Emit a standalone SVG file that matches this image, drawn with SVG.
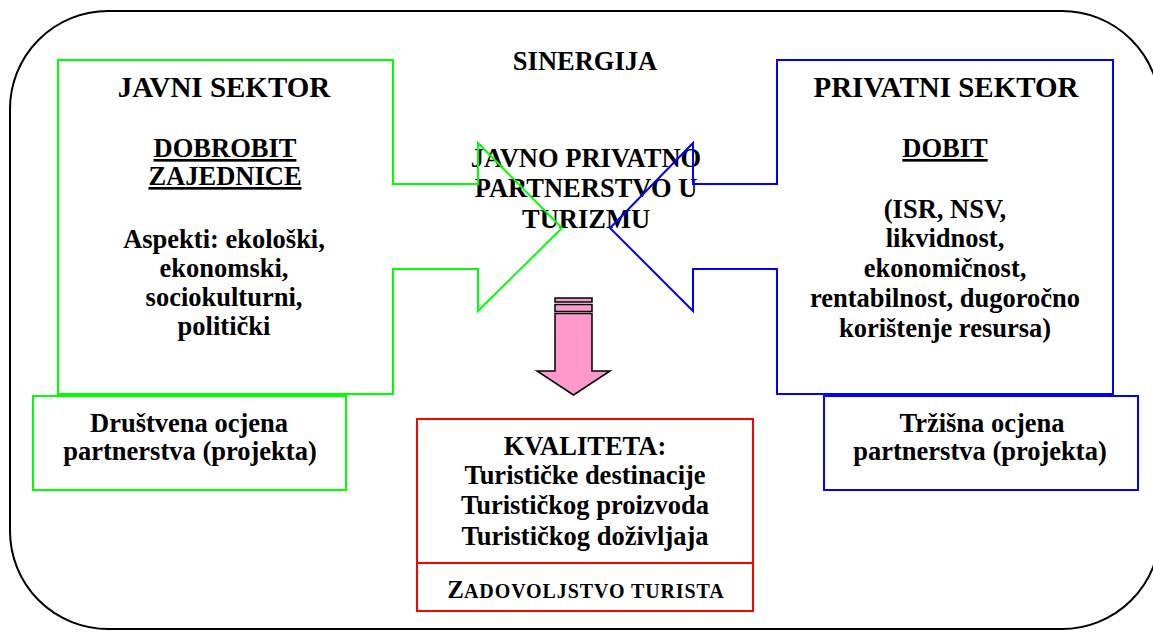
<svg xmlns="http://www.w3.org/2000/svg" width="1153" height="633" viewBox="0 0 1153 633" font-family="'Liberation Serif', 'Times New Roman', 'DejaVu Serif', serif">
<style>
text{font-family:'Liberation Serif','Times New Roman','DejaVu Serif',serif;font-weight:bold;fill:#000;text-anchor:middle}
.t{font-size:29px}
.b{font-size:26.5px}
.u{text-decoration:underline}
.g{fill:none;stroke:#00ff00;stroke-width:2}
.bl{fill:none;stroke:#0000ff;stroke-width:2}
.r{fill:#fff;stroke:#ff0000;stroke-width:2}
</style>
<rect width="1153" height="633" fill="#fff"/>
<g id="frame">
<rect x="10" y="11" width="1150" height="618" rx="98" ry="98" fill="none" stroke="#000" stroke-width="2"/>
</g>
<g id="center">
<text class="b" x="585" y="70">SINERGIJA</text>
<text class="b" x="586" y="167">JAVNO PRIVATNO</text>
<text class="b" x="586" y="197">PARTNERSTVO U</text>
<text class="b" x="586" y="228">TURIZMU</text>
</g>
<g id="javni-sektor">
<polygon class="g" points="58,60 393,60 393,184 478,184 478,143 562,228 478,311 478,269 393,269 393,394 58,394"/>
<text class="t" x="224" y="97">JAVNI SEKTOR</text>
<text class="b u" x="225" y="157">DOBROBIT</text>
<text class="b u" x="225" y="185">ZAJEDNICE</text>
<text class="b" x="224" y="248">Aspekti: ekološki,</text>
<text class="b" x="224" y="277">ekonomski,</text>
<text class="b" x="224" y="306">sociokulturni,</text>
<text class="b" x="224" y="335">politički</text>
</g>
<g id="privatni-sektor">
<polygon class="bl" points="777,60 1113,60 1113,394 777,394 777,269 693,269 693,311 610,228 693,143 693,184 777,184"/>
<text class="t" x="946" y="97">PRIVATNI SEKTOR</text>
<text class="b u" x="945" y="157">DOBIT</text>
<text class="b" x="945" y="218">(ISR, NSV,</text>
<text class="b" x="945" y="247">likvidnost,</text>
<text class="b" x="945" y="277">ekonomičnost,</text>
<text class="b" x="945" y="307">rentabilnost, dugoročno</text>
<text class="b" x="945" y="337">korištenje resursa)</text>
</g>
<g id="drustvena-ocjena">
<rect x="33" y="396" width="313" height="94" fill="#fff" stroke="#00ff00" stroke-width="2"/>
<text class="b" x="189" y="432">Društvena ocjena</text>
<text class="b" x="190" y="460">partnerstva (projekta)</text>
</g>
<g id="trzisna-ocjena">
<rect x="824" y="396" width="314" height="94" fill="#fff" stroke="#0000ff" stroke-width="2"/>
<text class="b" x="982" y="432">Tržišna ocjena</text>
<text class="b" x="980" y="460">partnerstva (projekta)</text>
</g>
<g id="kvaliteta">
<rect class="r" x="417" y="419" width="336" height="192"/>
<line x1="417" y1="563" x2="753" y2="563" stroke="#ff0000" stroke-width="2"/>
<text class="b" x="585" y="455">KVALITETA:</text>
<text class="b" x="585" y="484">Turističke destinacije</text>
<text class="b" x="585" y="514">Turističkog proizvoda</text>
<text class="b" x="585" y="545">Turističkog doživljaja</text>
<text x="586" y="598"><tspan font-size="25">Z</tspan><tspan font-size="20" letter-spacing="0.9">ADOVOLJSTVO TURISTA</tspan></text>
</g>
<g id="connectors">
<rect x="555" y="298" width="37" height="4" fill="#ff99cc" stroke="#000" stroke-width="1.5"/>
<rect x="555" y="304.5" width="37" height="7" fill="#ff99cc" stroke="#000" stroke-width="1.5"/>
<polygon points="555,313.5 592,313.5 592,371 610,371 573.5,395 537,371 555,371" fill="#ff99cc" stroke="#000" stroke-width="1.5" stroke-linejoin="miter"/>
</g>
</svg>
